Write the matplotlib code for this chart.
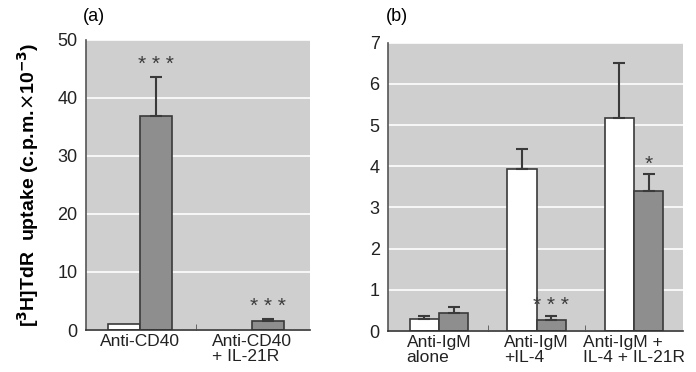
import numpy as np
import matplotlib
matplotlib.use("Agg")
import matplotlib.pyplot as plt

plt.rcParams['font.family'] = ['Liberation Sans', 'DejaVu Sans']

# panel (a)
cats_a = ["Anti-CD40", "Anti-CD40\n+ IL-21R"]
white_a = [1.0, 0.0]
white_a_err = [0.0, 0.0]
grey_a = [36.9, 1.6]
grey_a_err = [6.8, 0.3]
stars_a = ["* * *", "* * *"]

# panel (b)
cats_b = ["Anti-IgM\nalone", "Anti-IgM\n+IL-4", "Anti-IgM +\nIL-4 + IL-21R"]
white_b = [0.28, 3.93, 5.18]
white_b_err = [0.09, 0.49, 1.32]
grey_b = [0.43, 0.27, 3.40]
grey_b_err = [0.16, 0.10, 0.41]
stars_b = ["", "* * *", "*"]

BG = "#cfcfcf"
GREY = "#8e8e8e"
EDGE = "#3a3a3a"


def draw_panel(ax, cats, white, white_err, grey, grey_err, stars, width,
               ymax, yticks, star_pad, xlim):
    x = np.arange(len(cats))
    ax.set_facecolor(BG)
    ax.set_axisbelow(True)
    ax.yaxis.grid(True, color="white", linewidth=1.2)
    for i in range(len(cats)):
        if white[i] > 0:
            ax.bar(x[i] - width / 2, white[i], width, color="white",
                   edgecolor=EDGE, linewidth=1.2)
            if white_err[i] > 0:
                ax.errorbar(x[i] - width / 2, white[i],
                            yerr=[[0], [white_err[i]]], color=EDGE,
                            capsize=4, elinewidth=1.5, capthick=1.5)
        ax.bar(x[i] + width / 2, grey[i], width, color=GREY,
               edgecolor=EDGE, linewidth=1.2)
        ax.errorbar(x[i] + width / 2, grey[i], yerr=[[0], [grey_err[i]]],
                    color=EDGE, capsize=4, elinewidth=1.5, capthick=1.5)
        if stars[i]:
            ax.text(x[i] + width / 2, grey[i] + grey_err[i] + star_pad,
                    stars[i], ha="center", va="center", fontsize=15,
                    color="#3c3c3c")
    ax.set_xlim(*xlim)
    ax.set_ylim(0, ymax)
    ax.set_yticks(yticks)
    ax.set_xticks(x)
    ax.set_xticklabels(cats, multialignment="left", fontsize=12.5,
                       color="#222222", linespacing=1.0)
    ax.set_xticks(x[:-1] + 0.5, minor=True)
    ax.tick_params(axis="x", which="major", length=0, pad=3)
    ax.tick_params(axis="x", which="minor", length=4, direction="in",
                   color="#555555")
    ax.tick_params(axis="y", length=0, labelsize=13, labelcolor="#222222",
                   pad=6)
    for s in ["top", "right"]:
        ax.spines[s].set_visible(False)
    ax.spines["left"].set_color("#555555")
    ax.spines["bottom"].set_color("#333333")
    ax.spines["left"].set_linewidth(1.2)
    ax.spines["bottom"].set_linewidth(1.2)


fig = plt.figure(figsize=(6.96, 3.72), dpi=100)
ax_a = fig.add_axes([0.1236, 0.1129, 0.3218, 0.7796])
ax_b = fig.add_axes([0.5575, 0.1102, 0.4239, 0.775])

draw_panel(ax_a, cats_a, white_a, white_a_err, grey_a, grey_a_err, stars_a,
           0.286, 50, [0, 10, 20, 30, 40, 50], 2.1, (-0.482, 1.518))
draw_panel(ax_b, cats_b, white_b, white_b_err, grey_b, grey_b_err, stars_b,
           0.30, 7, range(8), 0.24, (-0.523, 2.503))

ax_a.set_ylabel(r"[$^{\mathbf{3}}$H]TdR  uptake (c.p.m.$\times$10$^{\mathbf{-3}}$)",
                fontsize=14, fontweight="bold", labelpad=12)
fig.text(0.119, 0.955, "(a)", fontsize=13, ha="left", va="center")
fig.text(0.555, 0.955, "(b)", fontsize=13, ha="left", va="center")

fig.savefig("out.png", dpi=100)
